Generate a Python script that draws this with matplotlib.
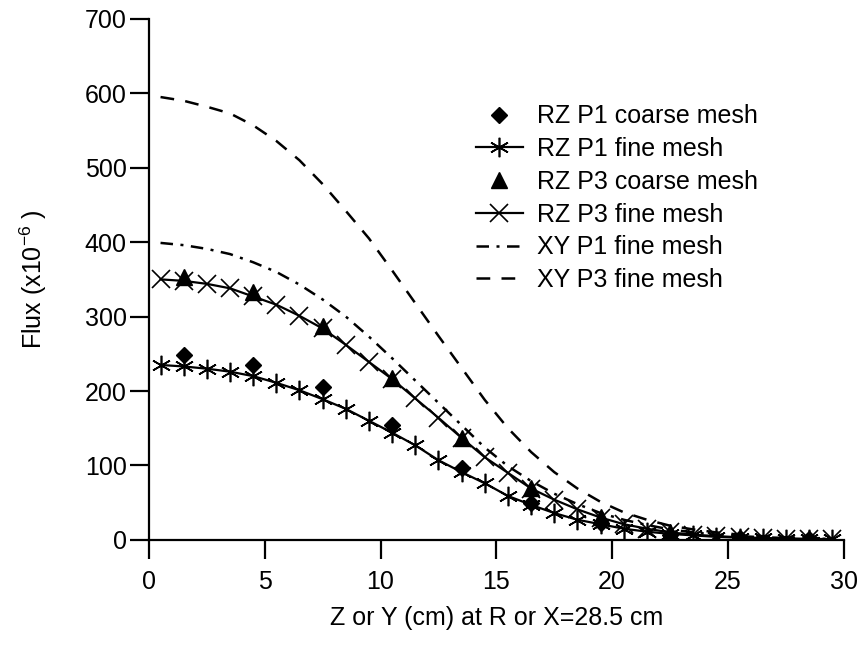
import matplotlib
matplotlib.use("Agg")
import matplotlib.pyplot as plt

plt.rcParams["font.family"] = ["Liberation Sans", "DejaVu Sans"]
plt.rcParams["mathtext.fontset"] = "custom"
plt.rcParams["mathtext.rm"] = "Liberation Sans"
plt.rcParams["mathtext.it"] = "Liberation Sans:italic"
plt.rcParams["mathtext.default"] = "rm"

# fine mesh positions (cm) and coarse mesh positions (cm)
x_fine = [0.5, 1.5, 2.5, 3.5, 4.5, 5.5, 6.5, 7.5, 8.5, 9.5,
          10.5, 11.5, 12.5, 13.5, 14.5, 15.5, 16.5, 17.5, 18.5, 19.5,
          20.5, 21.5, 22.5, 23.5, 24.5, 25.5, 26.5, 27.5, 28.5, 29.5]
x_coarse = [1.5, 4.5, 7.5, 10.5, 13.5, 16.5, 19.5, 22.5, 25.5, 28.5]

rz_p1_coarse = [249, 235, 205, 154, 96, 49, 22, 7, 2.5, 1]
rz_p3_coarse = [353, 333, 288, 217, 137, 70, 31, 10, 3, 1]

rz_p1_fine = [235, 233, 230, 226, 220, 211, 201, 189, 176, 160,
              144, 127, 107, 91, 76, 59, 47, 36, 27, 21,
              15, 11, 8, 6, 4, 3, 2, 1.5, 1, 0.8]
rz_p3_fine = [350, 348, 344, 338, 327, 316, 301, 284, 262, 239,
              216, 190, 164, 137, 111, 90, 69, 54, 41, 30,
              21, 15, 10, 7, 5, 3.5, 2.5, 1.8, 1.3, 1]
xy_p1_fine = [399, 396, 391, 384, 373, 360, 343, 323, 300, 273,
              244, 214, 184, 154, 124, 99, 79, 62, 48, 36,
              27, 20, 14, 10, 7, 5, 3.5, 2.5, 1.8, 1.3]
xy_p3_fine = [595, 590, 582, 573, 557, 536, 510, 478, 442, 405,
              362, 318, 274, 231, 188, 150, 118, 91, 69, 51,
              37, 27, 19, 14, 10, 7, 5, 3.5, 2.5, 2]

asterisk = (6, 2, 0)

fig = plt.figure(figsize=(8.61, 6.52), dpi=100)
ax = fig.add_axes([0.173, 0.172, 0.807, 0.799])

ax.plot(x_coarse, rz_p1_coarse, linestyle="none", marker="D", color="black",
        markersize=8.5, label="RZ P1 coarse mesh", zorder=4)
ax.plot(x_fine, rz_p1_fine, color="black", linewidth=1.6, marker=asterisk,
        markersize=14, markeredgewidth=1.2, label="RZ P1 fine mesh", zorder=3)
ax.plot(x_coarse, rz_p3_coarse, linestyle="none", marker="^", color="black",
        markersize=11, label="RZ P3 coarse mesh", zorder=4)
ax.plot(x_fine, rz_p3_fine, color="black", linewidth=1.6, marker="x",
        markersize=13, markeredgewidth=1.2, label="RZ P3 fine mesh", zorder=3)
ax.plot(x_fine, xy_p1_fine, color="black", linewidth=1.8,
        dashes=(5, 3, 1.2, 3), label="XY P1 fine mesh")
ax.plot(x_fine, xy_p3_fine, color="black", linewidth=1.8,
        dashes=(5.5, 4.5), label="XY P3 fine mesh")

ax.set_xlim(0, 30)
ax.set_ylim(0, 700)
ax.set_xticks([0, 5, 10, 15, 20, 25, 30])
ax.set_yticks([0, 100, 200, 300, 400, 500, 600, 700])

for side in ["top", "right"]:
    ax.spines[side].set_visible(False)
for side in ["left", "bottom"]:
    ax.spines[side].set_linewidth(1.6)
ax.tick_params(direction="out", length=14, width=1.6, labelsize=18)
ax.tick_params(axis="x", pad=8)
ax.tick_params(axis="y", pad=2)

ax.set_xlabel("Z or Y (cm) at R or X=28.5 cm", fontsize=18, labelpad=8)
ax.set_ylabel("Flux (x10$^{-6}$ )", fontsize=18, labelpad=26)

ax.legend(loc="upper left", bbox_to_anchor=(0.452, 0.86), frameon=False,
          fontsize=18, handlelength=1.9, handletextpad=0.55, borderpad=0,
          labelspacing=0.35)

fig.savefig("out.png", dpi=100)
